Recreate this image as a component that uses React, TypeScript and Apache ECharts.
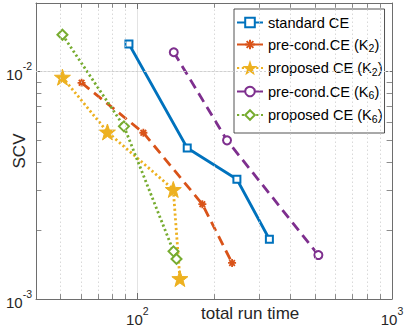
import React, { useEffect, useRef } from "react";
import * as echarts from "echarts";

// ---- data ----
const stdX = [92.7, 157, 246, 330];
const stdY = [0.0132, 0.00461, 0.00336, 0.00183];
const pc2X = [60.4, 105.6, 180, 235.5];
const pc2Y = [0.00892, 0.00538, 0.00261, 0.00144];
const pr2X = [50.8, 76.3, 138.4, 146.9];
const pr2Y = [0.00944, 0.00542, 0.00303, 0.00123];
const pc6X = [139, 225, 514];
const pc6Y = [0.01215, 0.00498, 0.00156];
const pr6X = [50.8, 88.6, 138.7, 142.5];
const pr6Y = [0.0145, 0.00574, 0.00162, 0.0015];

const seriesNames = [
  "standard CE",
  "pre-cond.CE (K2)",
  "proposed CE (K2)",
  "pre-cond.CE (K6)",
  "proposed CE (K6)",
];
const xMin = 40;
const xMax = 1000;
const yMin = 0.001;
const yMax = 0.02;
const minorX = [50, 60, 70, 80, 90, 200, 300, 400, 500, 600, 700, 800, 900];
const minorY = [0.002, 0.003, 0.004, 0.005, 0.006, 0.007, 0.008, 0.009];
const xTitle = "total run time";
const yTitle = "SCV";

const FONT = "'Liberation Sans', Arial, Helvetica, sans-serif";
const COLORS = ["#0072BD", "#D95319", "#EDB120", "#7E2F8E", "#77AC30"];
const STAR =
  "path://M0,-10 L2.35,-3.24 L9.51,-3.09 L3.8,1.24 L5.88,8.09 L0,4 L-5.88,8.09 L-3.8,1.24 L-9.51,-3.09 L-2.35,-3.24 Z";
const ASTER =
  "path://M-5,0 L5,0 M0,-5 L0,5 M-3.5,-3.5 L3.5,3.5 M-3.5,3.5 L3.5,-3.5";

const zip = (xs: number[], ys: number[]) => xs.map((x, i) => [x, ys[i]]);

const powLabel = (v: number) => {
  const e = Math.log10(v);
  if (Math.abs(e - Math.round(e)) > 1e-6) return "";
  return `{b|10}{s|${Math.round(e)}}`;
};

const tickRich = {
  b: { fontSize: 15, fontFamily: FONT, color: "#262626", lineHeight: 22, verticalAlign: "bottom" },
  s: { fontSize: 10.5, fontFamily: FONT, color: "#262626", lineHeight: 22, verticalAlign: "top" },
};

export default function App() {
  const ref = useRef<HTMLDivElement>(null);
  useEffect(() => {
    if (!ref.current) return;
    const chart = echarts.init(ref.current, undefined, { renderer: "svg" });
    const axisLine = { show: true, lineStyle: { color: "#6e6e6e", width: 1 } };
    const tickLen = 1.05;
    const minorTickLines: any[] = [];
    minorX.forEach((v) => {
      minorTickLines.push([{ coord: [v, yMin] }, { coord: [v, yMin * tickLen] }]);
      minorTickLines.push([{ coord: [v, yMax] }, { coord: [v, yMax / tickLen] }]);
    });
    minorY.forEach((v) => {
      minorTickLines.push([{ coord: [xMin, v] }, { coord: [xMin * tickLen, v] }]);
      minorTickLines.push([{ coord: [xMax, v] }, { coord: [xMax / tickLen, v] }]);
    });
    const helperData = [[xMin, yMin]];
    const option: any = {
      animation: false,
      grid: { left: 36, top: 3, right: 12, bottom: 33, containLabel: false, outerBoundsMode: "none" },
      xAxis: [
        {
          type: "log",
          min: xMin,
          max: xMax,
          position: "bottom",
          axisLine,
          axisTick: { show: true, inside: true, length: 6, lineStyle: { color: "#6e6e6e" } },
          axisLabel: { formatter: powLabel, rich: tickRich, margin: 6, showMinLabel: true, showMaxLabel: true },
          splitLine: { show: true, lineStyle: { color: "#e3e3e3", width: 1, type: "solid" } },
        },
        {
          type: "log",
          min: xMin,
          max: xMax,
          position: "top",
          axisLine,
          axisTick: { show: true, inside: true, length: 6, lineStyle: { color: "#6e6e6e" } },
          axisLabel: { show: false },
          splitLine: { show: false },
        },
      ],
      yAxis: [
        {
          type: "log",
          min: yMin,
          max: yMax,
          position: "left",
          axisLine,
          axisTick: { show: true, inside: true, length: 6, lineStyle: { color: "#6e6e6e" } },
          axisLabel: { formatter: powLabel, rich: tickRich, margin: 4 },
          splitLine: { show: true, lineStyle: { color: "#e3e3e3", width: 1, type: "solid" } },
        },
        {
          type: "log",
          min: yMin,
          max: yMax,
          position: "right",
          axisLine,
          axisTick: { show: true, inside: true, length: 6, lineStyle: { color: "#6e6e6e" } },
          axisLabel: { show: false },
          splitLine: { show: false },
        },
      ],
      legend: {
        orient: "vertical",
        left: 234,
        top: 9,
        backgroundColor: "#ffffff",
        borderColor: "#262626",
        borderWidth: 0.8,
        borderRadius: 0,
        padding: [6, 2, 9, 2],
        itemGap: 7,
        itemWidth: 26,
        itemHeight: 12,
        data: seriesNames,
        formatter: (name: string) => {
          const m = name.match(/^(.*\(K)(\d)(\))$/);
          if (!m) return `{n|${name}}`;
          return `{n|${m[1]}}{sub|${m[2]}}{n|${m[3]}}`;
        },
        textStyle: {
          fontFamily: FONT,
          fontSize: 14.6,
          color: "#000",
          rich: {
            n: { fontFamily: FONT, fontSize: 14.6, color: "#000", lineHeight: 18, verticalAlign: "middle" },
            sub: { fontFamily: FONT, fontSize: 10.5, color: "#000", lineHeight: 18, verticalAlign: "bottom" },
          },
        },
      },
      graphic: [
        {
          type: "text",
          left: 201,
          top: 305,
          style: { text: xTitle, fontFamily: FONT, fontSize: 17, fill: "#262626" },
        },
        {
          type: "text",
          x: 19,
          y: 151,
          rotation: Math.PI / 2,
          style: {
            text: yTitle,
            fontFamily: FONT,
            fontSize: 17,
            fill: "#262626",
            textAlign: "center",
            textVerticalAlign: "middle",
          },
        },
      ],
      series: [
        {
          name: "minor-grid",
          type: "line",
          data: helperData,
          showSymbol: false,
          lineStyle: { opacity: 0 },
          z: 1,
          silent: true,
          markLine: {
            silent: true,
            symbol: "none",
            label: { show: false },
            lineStyle: { color: "#cfcfcf", type: [1.5, 2.5], width: 0.8 },
            data: [
              ...minorX.map((v) => ({ xAxis: v })),
              ...minorY.map((v) => ({ yAxis: v })),
            ],
          },
        },
        {
          name: "minor-ticks",
          type: "line",
          data: helperData,
          showSymbol: false,
          lineStyle: { opacity: 0 },
          z: 1,
          silent: true,
          markLine: {
            silent: true,
            symbol: "none",
            label: { show: false },
            lineStyle: { color: "#6e6e6e", type: "solid", width: 0.8 },
            data: minorTickLines,
          },
        },
        {
          name: seriesNames[0],
          type: "line",
          data: zip(stdX, stdY),
          z: 3,
          color: COLORS[0],
          lineStyle: { width: 2.8, color: COLORS[0] },
          symbol: "emptyRect",
          symbolSize: 7,
          itemStyle: { color: COLORS[0], borderColor: COLORS[0], borderWidth: 2.6 },
        },
        {
          name: seriesNames[1],
          type: "line",
          data: zip(pc2X, pc2Y),
          z: 3,
          color: COLORS[1],
          lineStyle: { width: 2.8, color: COLORS[1], type: [10, 6] },
          symbol: ASTER,
          symbolSize: 8,
          itemStyle: { color: COLORS[1], borderColor: COLORS[1], borderWidth: 1.8 },
        },
        {
          name: seriesNames[2],
          type: "line",
          data: zip(pr2X, pr2Y),
          z: 3,
          color: COLORS[2],
          lineStyle: { width: 2.8, color: COLORS[2], type: [2.2, 2.6] },
          symbol: STAR,
          symbolSize: 16,
          itemStyle: { color: COLORS[2], borderColor: COLORS[2], borderWidth: 1 },
        },
        {
          name: seriesNames[3],
          type: "line",
          data: zip(pc6X, pc6Y),
          z: 3,
          color: COLORS[3],
          lineStyle: { width: 2.8, color: COLORS[3], type: [10, 6] },
          symbol: "emptyCircle",
          symbolSize: 8,
          itemStyle: { color: COLORS[3], borderColor: COLORS[3], borderWidth: 2.6 },
        },
        {
          name: seriesNames[4],
          type: "line",
          data: zip(pr6X, pr6Y),
          z: 3,
          color: COLORS[4],
          lineStyle: { width: 2.8, color: COLORS[4], type: [2.2, 2.6] },
          symbol: "emptyDiamond",
          symbolSize: 10,
          itemStyle: { color: COLORS[4], borderColor: COLORS[4], borderWidth: 2.6 },
        },
      ],
    };
    chart.setOption(option);
    return () => chart.dispose();
  }, []);
  return <div ref={ref} style={{ width: 404, height: 332, position: "absolute", left: 0, top: 0 }} />;
}
